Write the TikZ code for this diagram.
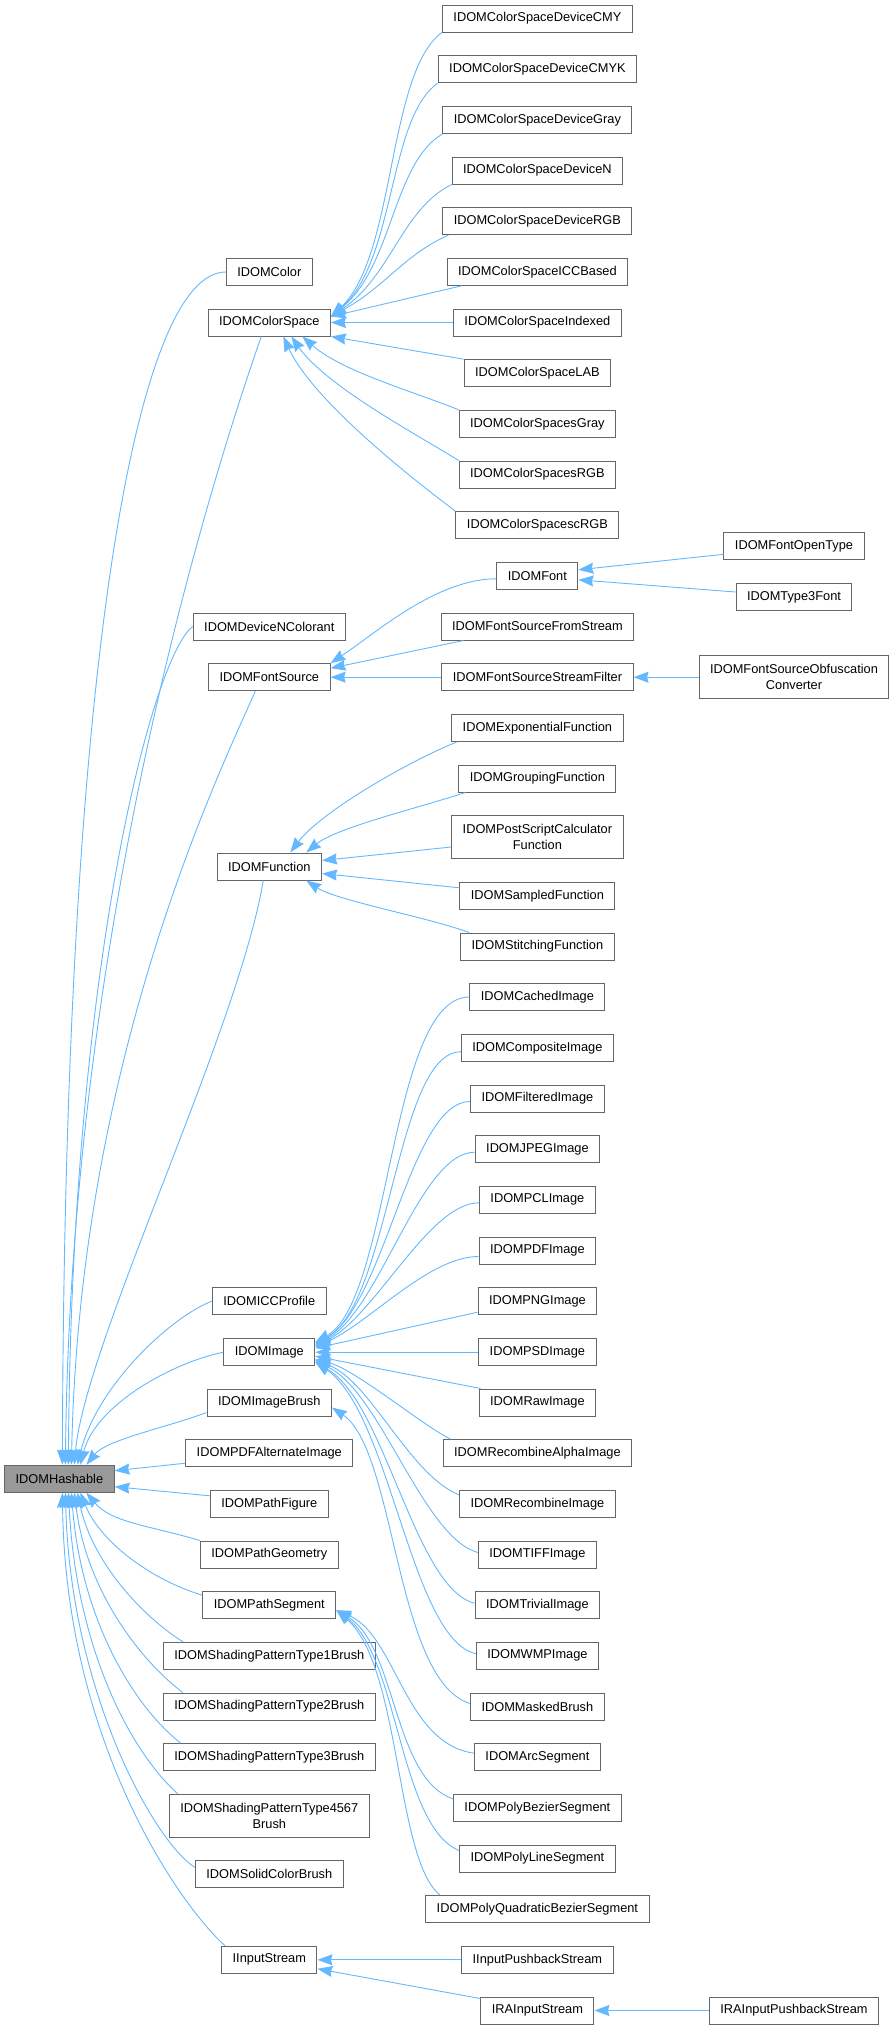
\documentclass[tikz,border=0pt]{standalone}
\usepackage{fontspec}
\setmainfont{Liberation Sans}
\usetikzlibrary{arrows.meta}
\definecolor{edgeBlue}{HTML}{63B8FF}
\definecolor{boxGray}{HTML}{666666}
\definecolor{baseGray}{HTML}{999999}
\begin{document}
\begin{tikzpicture}[
            x=1pt, y=1pt,
            classNode/.style={rectangle, draw=boxGray, fill=white, line width=1pt,
            minimum height=27pt, inner xsep=11pt, inner ysep=2pt, align=center,
            font=\fontsize{12.8}{15.7}\selectfont},
            tallNode/.style={classNode, minimum height=43pt},
            baseNode/.style={classNode, fill=baseGray},
            arrow/.style={draw=edgeBlue, line width=0.9pt, <-,
            >={Stealth[length=15pt, width=11pt, inset=1.5pt]}},
        ]
        \useasboundingbox (0,0) rectangle (891,-2029);
        \node[baseNode] (hashable) at (59.4,-1478.7) {IDOMHashable};
        % second column
        \node[classNode] (color)           at (269.3,-272)    {IDOMColor};
        \node[classNode] (colorSpace)      at (269.3,-322.5)  {IDOMColorSpace};
        \node[classNode] (devNColorant)    at (269.3,-626.5)  {IDOMDeviceNColorant};
        \node[classNode] (fontSource)      at (269.3,-677.2)  {IDOMFontSource};
        \node[classNode] (function)        at (269.3,-866.5)  {IDOMFunction};
        \node[classNode] (iccProfile)      at (269.3,-1301.2) {IDOMICCProfile};
        \node[classNode] (image)           at (269.3,-1352.2) {IDOMImage};
        \node[classNode] (imageBrush)      at (269.3,-1402.5) {IDOMImageBrush};
        \node[classNode] (pdfAlternate)    at (269.3,-1453.2) {IDOMPDFAlternateImage};
        \node[classNode] (pathFigure)      at (269.3,-1503.8) {IDOMPathFigure};
        \node[classNode] (pathGeometry)    at (269.3,-1554.5) {IDOMPathGeometry};
        \node[classNode] (pathSegment)     at (269.3,-1605.2) {IDOMPathSegment};
        \node[classNode] (shading1)        at (269.3,-1655.7) {IDOMShadingPatternType1Brush};
        \node[classNode] (shading2)        at (269.3,-1706.5) {IDOMShadingPatternType2Brush};
        \node[classNode] (shading3)        at (269.3,-1757.2) {IDOMShadingPatternType3Brush};
        \node[tallNode]  (shading4567)     at (269.3,-1815.8) {IDOMShadingPatternType4567\\Brush};
        \node[classNode] (solidColorBrush) at (269.3,-1874.3) {IDOMSolidColorBrush};
        \node[classNode] (iInputStream)    at (269.3,-1959.8) {IInputStream};
        % third column
        \node[classNode] (cmy)        at (537.4,-18.5)  {IDOMColorSpaceDeviceCMY};
        \node[classNode] (cmyk)       at (537.4,-69.2)  {IDOMColorSpaceDeviceCMYK};
        \node[classNode] (devGray)    at (537.4,-120)   {IDOMColorSpaceDeviceGray};
        \node[classNode] (devN)       at (537.4,-170.5) {IDOMColorSpaceDeviceN};
        \node[classNode] (devRgb)     at (537.4,-221.2) {IDOMColorSpaceDeviceRGB};
        \node[classNode] (iccBased)   at (537.4,-271.8) {IDOMColorSpaceICCBased};
        \node[classNode] (indexed)    at (537.4,-322.5) {IDOMColorSpaceIndexed};
        \node[classNode] (lab)        at (537.4,-373.2) {IDOMColorSpaceLAB};
        \node[classNode] (sGray)      at (537.4,-423.8) {IDOMColorSpacesGray};
        \node[classNode] (sRgb)       at (537.4,-474.5) {IDOMColorSpacesRGB};
        \node[classNode] (scRgb)      at (537.4,-525.2) {IDOMColorSpacescRGB};
        \node[classNode] (font)       at (537.4,-575.8) {IDOMFont};
        \node[classNode] (fsFromStream)   at (537.4,-626.5) {IDOMFontSourceFromStream};
        \node[classNode] (fsStreamFilter) at (537.4,-677.2) {IDOMFontSourceStreamFilter};
        \node[classNode] (expFunction)    at (537.4,-727.8) {IDOMExponentialFunction};
        \node[classNode] (groupFunction)  at (537.4,-778.5) {IDOMGroupingFunction};
        \node[tallNode]  (psFunction)     at (537.4,-837)   {IDOMPostScriptCalculator\\Function};
        \node[classNode] (sampFunction)   at (537.4,-895.8) {IDOMSampledFunction};
        \node[classNode] (stitchFunction) at (537.4,-946.5) {IDOMStitchingFunction};
        \node[classNode] (cachedImage)    at (537.4,-997)    {IDOMCachedImage};
        \node[classNode] (compositeImage) at (537.4,-1047.8) {IDOMCompositeImage};
        \node[classNode] (filteredImage)  at (537.4,-1098.5) {IDOMFilteredImage};
        \node[classNode] (jpegImage)      at (537.4,-1149.2) {IDOMJPEGImage};
        \node[classNode] (pclImage)       at (537.4,-1199.8) {IDOMPCLImage};
        \node[classNode] (pdfImage)       at (537.4,-1250.5) {IDOMPDFImage};
        \node[classNode] (pngImage)       at (537.4,-1301.2) {IDOMPNGImage};
        \node[classNode] (psdImage)       at (537.4,-1352.2) {IDOMPSDImage};
        \node[classNode] (rawImage)       at (537.4,-1402.5) {IDOMRawImage};
        \node[classNode] (recAlphaImage)  at (537.4,-1453.2) {IDOMRecombineAlphaImage};
        \node[classNode] (recImage)       at (537.4,-1503.8) {IDOMRecombineImage};
        \node[classNode] (tiffImage)      at (537.4,-1554.5) {IDOMTIFFImage};
        \node[classNode] (trivialImage)   at (537.4,-1605.2) {IDOMTrivialImage};
        \node[classNode] (wmpImage)       at (537.4,-1655.7) {IDOMWMPImage};
        \node[classNode] (maskedBrush)    at (537.4,-1706.5) {IDOMMaskedBrush};
        \node[classNode] (arcSegment)     at (537.4,-1757.2) {IDOMArcSegment};
        \node[classNode] (polyBezier)     at (537.4,-1807.8) {IDOMPolyBezierSegment};
        \node[classNode] (polyLine)       at (537.4,-1858.5) {IDOMPolyLineSegment};
        \node[classNode] (polyQuad)       at (537.4,-1909.2) {IDOMPolyQuadraticBezierSegment};
        \node[classNode] (iInputPushback) at (537.4,-1959.8) {IInputPushbackStream};
        \node[classNode] (raInputStream)  at (537.4,-2010.5) {IRAInputStream};
        % fourth column
        \node[classNode] (fontOpenType)   at (794,-546.3)  {IDOMFontOpenType};
        \node[classNode] (type3Font)      at (794,-597)    {IDOMType3Font};
        \node[tallNode]  (fsObfuscation)  at (794,-677.2)  {IDOMFontSourceObfuscation\\Converter};
        \node[classNode] (raInputPushback) at (794,-2010.5) {IRAInputPushbackStream};

        % IDOMHashable
        \draw[arrow] ([xshift=3pt]hashable.north) .. controls +(2,800) and +(-90,0) .. (color.west);
        \draw[arrow] ([xshift=6pt]hashable.north) .. controls +(5,500) and +(-70,-200) .. ([xshift=-8pt]colorSpace.south);
        \draw[arrow] ([xshift=9pt]hashable.north) .. controls +(3,500) and +(-40,-30) .. (devNColorant.west);
        \draw[arrow] ([xshift=12pt]hashable.north) .. controls +(8,400) and +(-40,-90) .. ([xshift=-14pt]fontSource.south);
        \draw[arrow] ([xshift=15pt]hashable.north) .. controls +(10,120) and +(-25,-150) .. ([xshift=-6pt]function.south);
        \draw[arrow] ([xshift=18pt]hashable.north) .. controls +(20,80) and +(-40,-15) .. (iccProfile.west);
        \draw[arrow] ([xshift=21pt]hashable.north) .. controls +(15,60) and +(-50,-10) .. (image.west);
        \draw[arrow] ([xshift=27pt]hashable.north) .. controls +(20,25) and +(-40,-15) .. ([yshift=-10pt]imageBrush.west);
        \draw[arrow] ([yshift=8pt]hashable.east) -- ([yshift=-10pt]pdfAlternate.west);
        \draw[arrow] ([yshift=-8pt]hashable.east) -- ([yshift=8pt]pathFigure.west);
        \draw[arrow] ([xshift=27pt]hashable.south) .. controls +(25,-30) and +(-50,15) .. (pathGeometry.north west);
        \draw[arrow] ([xshift=21pt]hashable.south) .. controls +(20,-50) and +(-50,15) .. ([yshift=-4pt]pathSegment.north west);
        \draw[arrow] ([xshift=18pt]hashable.south) .. controls +(15,-70) and +(-40,25) .. ([xshift=20pt]shading1.north west);
        \draw[arrow] ([xshift=15pt]hashable.south) .. controls +(12,-100) and +(-40,30) .. ([xshift=20pt]shading2.north west);
        \draw[arrow] ([xshift=12pt]hashable.south) .. controls +(10,-130) and +(-45,35) .. ([xshift=18pt]shading3.north west);
        \draw[arrow] ([xshift=9pt]hashable.south) .. controls +(8,-160) and +(-45,40) .. ([xshift=9pt]shading4567.north west);
        \draw[arrow] ([xshift=6pt]hashable.south) .. controls +(5,-200) and +(-40,25) .. ([yshift=7pt]solidColorBrush.west);
        \draw[arrow] ([xshift=3pt]hashable.south) .. controls +(3,-250) and +(-45,40) .. ([xshift=4pt]iInputStream.north west);

        % IDOMColorSpace
        \draw[arrow] ([yshift=6pt]colorSpace.east) .. controls +(65,60) and +(-55,-40) .. (cmy.south west);
        \draw[arrow] ([yshift=6pt]colorSpace.east) .. controls +(65,55) and +(-50,-35) .. (cmyk.south west);
        \draw[arrow] ([yshift=6pt]colorSpace.east) .. controls +(62,50) and +(-50,-30) .. (devGray.south west);
        \draw[arrow] ([yshift=6pt]colorSpace.east) .. controls +(60,40) and +(-50,-25) .. (devN.south west);
        \draw[arrow] ([yshift=6pt]colorSpace.east) .. controls +(55,30) and +(-45,-20) .. ([xshift=6pt]devRgb.south west);
        \draw[arrow] ([yshift=6pt]colorSpace.east) -- ([xshift=15pt]iccBased.south west);
        \draw[arrow] (colorSpace.east) -- (indexed.west);
        \draw[arrow] (colorSpace.south east) -- (lab.north west);
        \draw[arrow] ([xshift=33pt]colorSpace.south) .. controls +(40,-35) and +(-50,20) .. (sGray.north west);
        \draw[arrow] ([xshift=22pt]colorSpace.south) .. controls +(35,-50) and +(-40,25) .. (sRgb.north west);
        \draw[arrow] ([xshift=14pt]colorSpace.south) .. controls +(30,-65) and +(-40,30) .. (scRgb.north west);

        % fonts
        \draw[arrow] ([yshift=6pt]font.east) -- ([yshift=-8pt]fontOpenType.west);
        \draw[arrow] ([yshift=-4pt]font.east) -- ([yshift=5pt]type3Font.west);
        \draw[arrow] (fontSource.north east) .. controls +(45,30) and +(-60,0) .. ([yshift=-3pt]font.west);
        \draw[arrow] ([yshift=9pt]fontSource.east) -- ([xshift=23pt]fsFromStream.south west);
        \draw[arrow] (fontSource.east) -- (fsStreamFilter.west);
        \draw[arrow] (fsStreamFilter.east) -- (fsObfuscation.west);

        % IDOMFunction
        \draw[arrow] ([xshift=21pt]function.north) .. controls +(30,40) and +(-50,-20) .. ([xshift=6pt]expFunction.south west);
        \draw[arrow] ([xshift=37pt]function.north) .. controls +(30,25) and +(-45,-15) .. ([xshift=7pt]groupFunction.south west);
        \draw[arrow] ([yshift=6pt]function.east) -- ([yshift=-10pt]psFunction.west);
        \draw[arrow] ([yshift=-7pt]function.east) -- ([yshift=8pt]sampFunction.west);
        \draw[arrow] ([xshift=37pt]function.south) .. controls +(30,-20) and +(-40,15) .. ([xshift=9pt]stitchFunction.north west);

        % IDOMImage
        \draw[arrow] ([yshift=10pt]image.east) .. controls +(76,43) and +(-80,0) .. (cachedImage.west);
        \draw[arrow] ([yshift=9pt]image.east) .. controls +(75,40) and +(-65,0) .. ([yshift=-4pt]compositeImage.west);
        \draw[arrow] ([yshift=8pt]image.east) .. controls +(70,40) and +(-60,0) .. ([yshift=-3pt]filteredImage.west);
        \draw[arrow] ([yshift=7pt]image.east) .. controls +(65,35) and +(-55,0) .. ([yshift=-3pt]jpegImage.west);
        \draw[arrow] ([yshift=6pt]image.east) .. controls +(60,30) and +(-50,0) .. ([yshift=-3pt]pclImage.west);
        \draw[arrow] ([yshift=5pt]image.east) .. controls +(55,25) and +(-50,0) .. ([yshift=-6pt]pdfImage.west);
        \draw[arrow] ([yshift=4pt]image.east) -- ([yshift=-11pt]pngImage.west);
        \draw[arrow] (image.east) -- (psdImage.west);
        \draw[arrow] ([yshift=-4pt]image.east) -- ([xshift=2pt]rawImage.north west);
        \draw[arrow] ([yshift=-7pt]image.east) .. controls +(40,-10) and +(-30,15) .. ([xshift=8pt]recAlphaImage.north west);
        \draw[arrow] ([yshift=-8pt]image.east) .. controls +(55,-20) and +(-50,20) .. ([yshift=9pt]recImage.west);
        \draw[arrow] ([yshift=-9pt]image.east) .. controls +(65,-30) and +(-55,15) .. ([yshift=2pt]tiffImage.west);
        \draw[arrow] ([yshift=-10pt]image.east) .. controls +(70,-40) and +(-60,15) .. ([yshift=2pt]trivialImage.west);
        \draw[arrow] ([yshift=-10pt]image.east) .. controls +(75,-50) and +(-65,15) .. ([yshift=2pt]wmpImage.west);
        \draw[arrow] ([yshift=-5pt]imageBrush.east) .. controls +(64,-43) and +(-75,23) .. ([yshift=3pt]maskedBrush.west);

        % IDOMPathSegment
        \draw[arrow] ([yshift=-5pt]pathSegment.east) .. controls +(60,-25) and +(-70,10) .. ([yshift=4pt]arcSegment.west);
        \draw[arrow] ([yshift=-5pt]pathSegment.east) .. controls +(60,-35) and +(-60,20) .. ([yshift=-5pt]polyBezier.north west);
        \draw[arrow] ([yshift=-5pt]pathSegment.east) .. controls +(62,-45) and +(-60,25) .. ([yshift=-6pt]polyLine.north west);
        \draw[arrow] ([yshift=-5pt]pathSegment.east) .. controls +(65,-55) and +(-45,35) .. ([xshift=15pt]polyQuad.north west);

        % streams
        \draw[arrow] (iInputStream.east) -- (iInputPushback.west);
        \draw[arrow] ([yshift=-9pt]iInputStream.east) -- ([yshift=-2pt]raInputStream.north west);
        \draw[arrow] (raInputStream.east) -- (raInputPushback.west);
    \end{tikzpicture}
\end{document}
